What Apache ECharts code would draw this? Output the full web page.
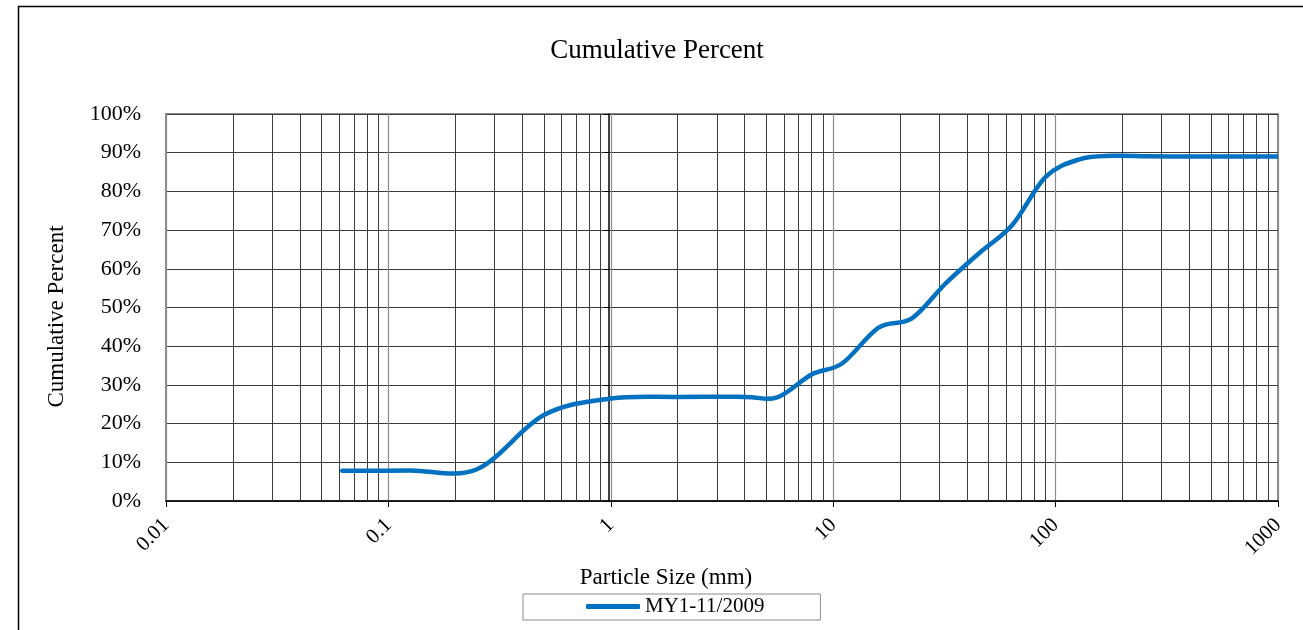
<!DOCTYPE html>
<html>
<head>
<meta charset="utf-8">
<script src="https://cdn.jsdelivr.net/npm/echarts@6/dist/echarts.min.js"></script>
<style>
html,body{margin:0;padding:0;background:#fff;}
#chart{width:1303px;height:630px;}
</style>
</head>
<body>
<div id="chart"></div>
<script>
// ---- data ----
const particleSizes = [0.062, 0.125, 0.25, 0.5, 1, 2, 4, 5.6, 8, 11, 16, 22.6, 32, 45, 64, 90, 128, 180, 256, 362, 512, 1024];
const cumulativePct = [7.8, 7.9, 8.2, 22.2, 26.5, 26.9, 26.9, 26.8, 32.7, 35.6, 44.8, 47.2, 56.2, 63.9, 71.4, 83.7, 88.3, 89.2, 89.1, 89.0, 89.0, 89.0];
const seriesName = 'MY1-11/2009';
const chartTitle = 'Cumulative Percent';
const xAxisTitle = 'Particle Size (mm)';
const yAxisTitle = 'Cumulative Percent';
const xMin = 0.01, xMax = 1000;
const yMin = 0, yMax = 100, yStep = 10;

// minor log grid positions (2..9 within each decade)
const minorGrid = [];
for (let d = xMin; d < xMax; d *= 10) {
  for (let k = 2; k <= 9; k++) minorGrid.push(+(d * k).toPrecision(3));
}

const LINE_COLOR = '#0070C0';
const FONT = 'Liberation Serif';

// Smoothed line (spreadsheet-style Bezier smoothing) through the data, positioned via the axes
function renderCurve(params, api) {
  if (params.dataIndex !== 0) return null;
  const pts = particleSizes.map((s, i) => api.coord([s, cumulativePct[i]]));
  const n = pts.length;
  let d = 'M' + pts[0][0] + ' ' + pts[0][1];
  for (let i = 0; i < n - 1; i++) {
    const p0 = pts[Math.max(i - 1, 0)], p1 = pts[i], p2 = pts[i + 1], p3 = pts[Math.min(i + 2, n - 1)];
    const c1 = [p1[0] + (p2[0] - p0[0]) / 6, p1[1] + (p2[1] - p0[1]) / 6];
    const c2 = [p2[0] - (p3[0] - p1[0]) / 6, p2[1] - (p3[1] - p1[1]) / 6];
    d += ' C' + c1[0] + ' ' + c1[1] + ' ' + c2[0] + ' ' + c2[1] + ' ' + p2[0] + ' ' + p2[1];
  }
  const cs = params.coordSys;
  return {
    type: 'group',
    children: [{
      type: 'path',
      shape: {pathData: d},
      style: {fill: null, stroke: LINE_COLOR, lineWidth: 4.5, lineCap: 'round', lineJoin: 'round'}
    }],
    clipPath: {type: 'rect', shape: {x: cs.x, y: cs.y - 10, width: cs.width, height: cs.height + 20}}
  };
}

const chart = echarts.init(document.getElementById('chart'), null, {renderer: 'canvas'});
chart.setOption({
  backgroundColor: '#ffffff',
  animation: false,
  title: {
    text: chartTitle,
    left: 652,
    textAlign: 'center',
    top: 32,
    textStyle: {fontFamily: FONT, fontSize: 27, fontWeight: 'normal', color: '#000'}
  },
  graphic: [{
    type: 'rect',
    shape: {x: 18.5, y: 6.5, width: 1400, height: 700},
    style: {fill: 'none', stroke: '#000', lineWidth: 1.5},
    silent: true,
    z: -10
  }],
  legend: {
    left: 523,
    top: 594,
    padding: [2, 56, 3, 63],
    itemWidth: 54,
    itemHeight: 5,
    borderColor: '#8c8c8c',
    borderWidth: 1,
    textStyle: {fontFamily: FONT, fontSize: 21, color: '#000'},
    data: [{name: seriesName, icon: 'roundRect', itemStyle: {color: LINE_COLOR}}]
  },
  grid: {
    left: 166, right: 25, top: 114, bottom: 129,
    show: true, borderColor: '#8c8c8c', borderWidth: 2,
    containLabel: false
  },
  xAxis: {
    type: 'log',
    logBase: 10,
    min: xMin,
    max: xMax,
    name: xAxisTitle,
    nameLocation: 'middle',
    nameGap: 60,
    nameTextStyle: {fontFamily: FONT, fontSize: 23, color: '#000', padding: [0, 112, 0, 0]},
    axisLine: {show: true, lineStyle: {color: '#000', width: 1.5}},
    axisTick: {show: true, length: 6, lineStyle: {color: '#000'}},
    axisLabel: {
      rotate: 45, margin: 21, fontFamily: FONT, fontSize: 21, color: '#000',
      formatter: v => String(+Number(v).toPrecision(6))
    },
    splitLine: {show: true, lineStyle: {color: '#8c8c8c', width: 1.2}}
  },
  yAxis: [{
    type: 'value',
    min: yMin, max: yMax, interval: yStep,
    position: 'left',
    name: yAxisTitle,
    nameLocation: 'middle',
    nameGap: 98,
    nameTextStyle: {fontFamily: FONT, fontSize: 23, color: '#000', padding: [0, 18, 0, 0]},
    axisLine: {show: true, lineStyle: {color: '#8c8c8c', width: 2}},
    axisTick: {show: false},
    axisLabel: {margin: 25, fontFamily: FONT, fontSize: 22, color: '#000', formatter: '{value}%'},
    splitLine: {show: true, lineStyle: {color: '#3c3c3c', width: 1}}
  }, {
    type: 'value',
    min: yMin, max: yMax, interval: yStep,
    position: 'left',
    offset: -443,
    axisLine: {show: true, lineStyle: {color: '#000', width: 1.5}},
    axisTick: {show: true, length: 5, lineStyle: {color: '#000'}},
    axisLabel: {show: false},
    splitLine: {show: false}
  }],
  series: [{
    name: seriesName,
    type: 'custom',
    coordinateSystem: 'cartesian2d',
    yAxisIndex: 0,
    data: particleSizes.map((s, i) => [s, cumulativePct[i]]),
    encode: {x: 0, y: 1},
    renderItem: renderCurve,
    itemStyle: {color: LINE_COLOR},
    z: 5,
    silent: true
  }, {
    name: 'minor-grid',
    type: 'line',
    data: [],
    silent: true,
    markLine: {
      silent: true,
      symbol: ['none', 'none'],
      label: {show: false},
      animation: false,
      lineStyle: {color: '#3c3c3c', width: 1, type: 'solid'},
      emphasis: {disabled: true},
      data: minorGrid.map(v => ({xAxis: v}))
    }
  }]
});
</script>
</body>
</html>
